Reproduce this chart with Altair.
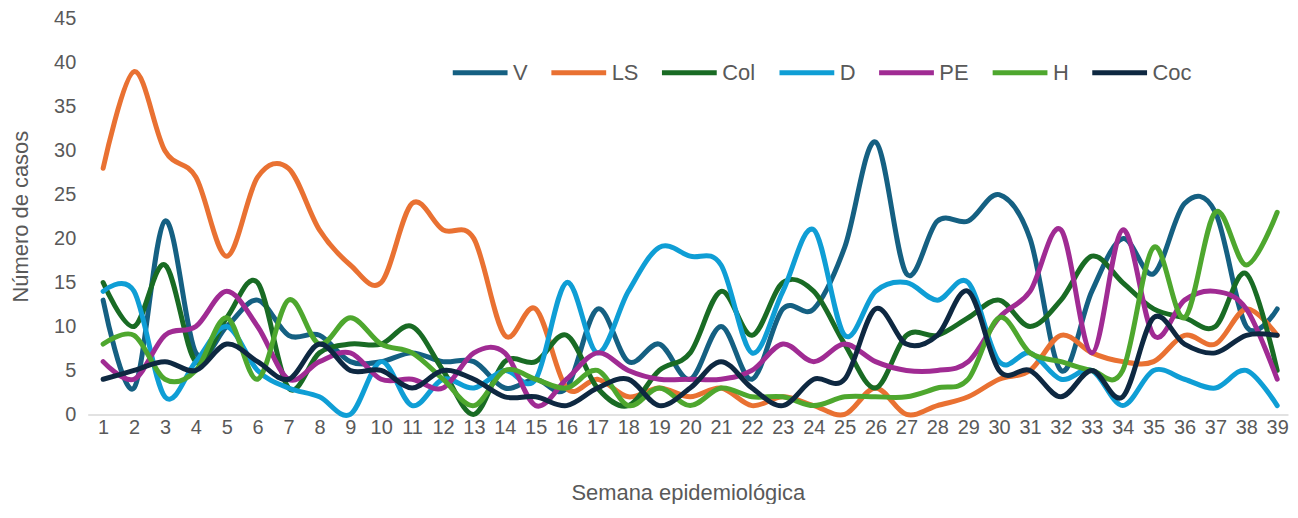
import altair as alt
import pandas as pd

weeks = list(range(1, 40))
series_names = ["V", "LS", "Col", "D", "PE", "H", "Coc"]
series_colors = ["#156082", "#E97132", "#196B24", "#0F9ED5", "#A02B93", "#4EA72E", "#0E2841"]

V = [13, 3, 22, 7, 10, 13, 9, 9, 6, 6, 7, 6, 6, 3, 4, 3, 12, 6, 8, 4, 10, 4, 12, 12, 19, 31, 16, 22, 22, 25, 20, 5, 14, 20, 16, 24, 23, 10, 12]
LS = [28, 39, 30, 27, 18, 27, 28, 21, 17, 15, 24, 21, 20, 9, 12, 3, 4, 2, 3, 2, 3, 1, 2, 1, 0, 3, 0, 1, 2, 4, 5, 9, 7, 6, 6, 9, 8, 12, 9]
Col = [15, 10, 17, 6, 11, 15, 3, 7, 8, 8, 10, 5, 0, 6, 6, 9, 3, 1, 5, 7, 14, 9, 15, 14, 8, 3, 9, 9, 11, 13, 10, 13, 18, 15, 12, 11, 10, 16, 5]
D = [14, 14, 2, 6, 10, 5, 3, 2, 0, 6, 1, 4, 3, 5, 4, 15, 7, 14, 19, 18, 17, 7, 14, 21, 9, 14, 15, 13, 15, 6, 7, 4, 5, 1, 5, 4, 3, 5, 1]
PE = [6, 4, 9, 10, 14, 10, 4, 6, 7, 4, 4, 3, 7, 7, 1, 4, 7, 5, 4, 4, 4, 5, 8, 6, 8, 6, 5, 5, 6, 11, 14, 21, 7, 21, 9, 13, 14, 12, 4]
H = [8, 9, 4, 5, 11, 4, 13, 8, 11, 8, 7, 4, 1, 5, 4, 3, 5, 1, 3, 1, 3, 2, 2, 1, 2, 2, 2, 3, 4, 11, 7, 6, 5, 5, 19, 11, 23, 17, 23]
Coc = [4, 5, 6, 5, 8, 6, 4, 8, 5, 5, 3, 5, 4, 2, 2, 1, 3, 4, 1, 3, 6, 3, 1, 4, 4, 12, 8, 9, 14, 5, 5, 2, 5, 2, 11, 8, 7, 9, 9]

x_ticks = weeks
y_ticks = [0, 5, 10, 15, 20, 25, 30, 35, 40, 45]

values = {"V": V, "LS": LS, "Col": Col, "D": D, "PE": PE, "H": H, "Coc": Coc}
rows = []
for order, name in enumerate(series_names):
    for w, v in zip(weeks, values[name]):
        rows.append({"Semana": w, "Casos": v, "Serie": name, "orden": order})
df = pd.DataFrame(rows)

FONT = "Liberation Sans"
GRAY = "#595959"

chart = alt.Chart(df).mark_line(
    interpolate="cardinal", tension=0, strokeWidth=5, strokeCap="round", strokeJoin="round"
).encode(
    x=alt.X("Semana:Q",
            scale=alt.Scale(domain=[0.5, 39.35], nice=False, zero=False),
            axis=alt.Axis(values=x_ticks, format="d", title="Semana epidemiológica", grid=False, ticks=False,
                          domainColor="#D9D9D9", domainWidth=1.5, labelFontSize=20, labelColor=GRAY,
                          labelFont=FONT, labelPadding=3, labelFlush=False, labelOverlap=False,
                          titleFont=FONT, titleFontSize=22, titleFontWeight="normal", titleColor=GRAY,
                          titleY=85, titleBaseline="alphabetic")),
    y=alt.Y("Casos:Q",
            scale=alt.Scale(domain=[0, 45], nice=False),
            axis=alt.Axis(values=y_ticks, grid=False, ticks=False, domain=False, labelFontSize=20,
                          labelColor=GRAY, labelFont=FONT, labelPadding=12,
                          title="Número de casos", titleFont=FONT, titleFontSize=22, titleFontWeight="normal",
                          titleColor=GRAY, titleX=-67, titleY=198, titleAngle=270, titleAlign="center",
                          titleBaseline="middle")),
    color=alt.Color("Serie:N",
                    scale=alt.Scale(domain=series_names, range=series_colors),
                    sort=series_names,
                    legend=alt.Legend(title=None, orient="none", legendX=364, legendY=24, direction="horizontal",
                                      symbolType="stroke", symbolSize=3025, symbolStrokeWidth=5,
                                      labelFontSize=22, labelFont=FONT, labelColor=GRAY, labelOffset=3,
                                      columnPadding=13, padding=0)),
    order=alt.Order("orden:Q"),
).properties(
    width=1205, height=397,
    padding={"left": 80, "top": 10, "right": 2, "bottom": 89},
    autosize=alt.AutoSizeParams(type="none"),
).configure_view(stroke=None)

chart.save("out.html", embed_options={"renderer": "svg", "actions": False})
